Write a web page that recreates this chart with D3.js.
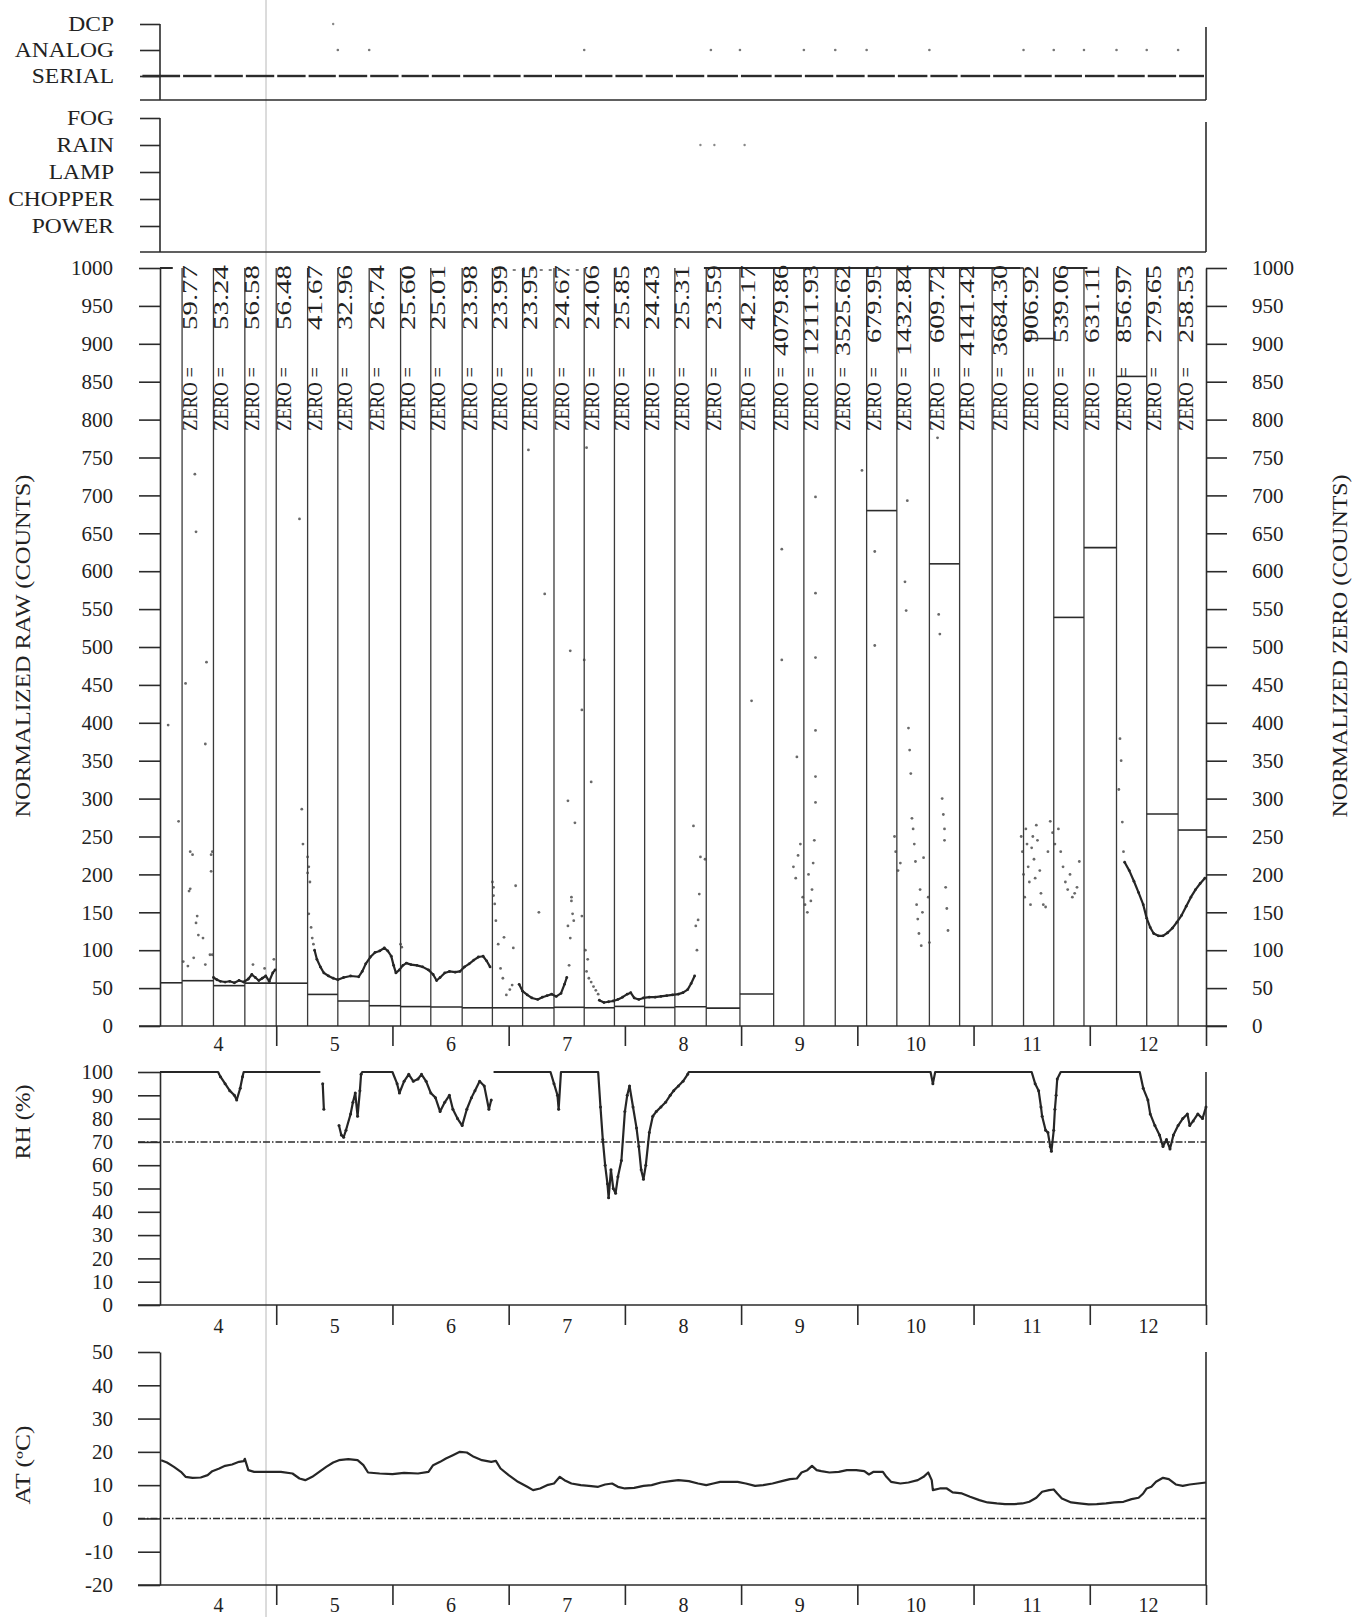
<!DOCTYPE html>
<html>
<head>
<meta charset="utf-8">
<script src="https://d3js.org/d3.v7.min.js"></script>
<style>
  body { margin: 0; background: #fff; }
  svg { display: block; }
  text { font-family: "Liberation Serif", "Times New Roman", serif; fill: #222; }
</style>
</head>
<body>
<div id="chart"></div>
<script>
// ---- data ----
const days = [4, 5, 6, 7, 8, 9, 10, 11, 12];
const dayBounds = [5, 6, 7, 8, 9, 10, 11, 12, 13];
const statusRows = ["DCP", "ANALOG", "SERIAL"];
const sensorRows = ["FOG", "RAIN", "LAMP", "CHOPPER", "POWER"];
const rawTicks = [0, 50, 100, 150, 200, 250, 300, 350, 400, 450, 500, 550, 600, 650, 700, 750, 800, 850, 900, 950, 1000];
const rhTicks = [0, 10, 20, 30, 40, 50, 60, 70, 80, 90, 100];
const atTicks = [-20, -10, 0, 10, 20, 30, 40, 50];

// zero calibration times (day) and the labels printed at them
const zeroTimes = [4.19, 4.46, 4.73, 5.00, 5.27, 5.53, 5.80, 6.07, 6.33, 6.60, 6.86, 7.12, 7.39, 7.65, 7.91, 8.17, 8.43,
  8.70, 8.99, 9.28, 9.54, 9.81, 10.08, 10.34, 10.62, 10.88, 11.16, 11.43, 11.69, 11.95, 12.23, 12.49, 12.76];
const zeroLabels = ["59.77", "53.24", "56.58", "56.48", "41.67", "32.96", "26.74", "25.60", "25.01", "23.98", "23.99",
  "23.95", "24.67", "24.06", "25.85", "24.43", "25.31", "23.59", "42.17", "4079.86", "1211.93", "3525.62", "679.95",
  "1432.84", "609.72", "4141.42", "3684.30", "906.92", "539.06", "631.11", "856.97", "279.65", "258.53"];
const priorZero = 57;

// flags in the two status panels
const dcpTimes = [5.49];
const analogTimes = [5.53, 5.80, 7.65, 8.74, 8.99, 9.54, 9.81, 10.08, 10.62, 11.43, 11.69, 11.95, 12.23, 12.49, 12.76];
const rainTimes = [8.65, 8.77, 9.03];
const serialStart = 3.84;

// normalized raw: dense trace (null = gap), isolated dots, saturated spans at 1000
const rawTrace = [
  [4.46, 64], [4.49, 61], [4.52, 59], [4.56, 58], [4.60, 59], [4.64, 57], [4.68, 60], [4.72, 58], [4.76, 62], [4.79, 68],
  [4.82, 64], [4.85, 60], [4.88, 63], [4.91, 66], [4.94, 59], [4.97, 70], [4.99, 74], null,
  [5.33, 100], [5.35, 88], [5.38, 78], [5.41, 70], [5.45, 66], [5.49, 63], [5.53, 61], [5.58, 64], [5.64, 66], [5.71, 65],
  [5.74, 72], [5.77, 82], [5.81, 91], [5.85, 97], [5.89, 99], [5.93, 103], [5.96, 99], [5.99, 92], [6.01, 80], [6.03, 70],
  [6.06, 74], [6.09, 80], [6.12, 83], [6.16, 81], [6.21, 80], [6.26, 78], [6.31, 74], [6.35, 68], [6.38, 60], [6.41, 64],
  [6.45, 70], [6.49, 72], [6.54, 71], [6.58, 72], [6.62, 78], [6.66, 82], [6.70, 87], [6.74, 91], [6.78, 92], [6.81, 86],
  [6.84, 78], null,
  [7.09, 55], [7.12, 46], [7.16, 41], [7.20, 37], [7.25, 35], [7.29, 38], [7.33, 40], [7.37, 42], [7.41, 39], [7.45, 43],
  [7.48, 55], [7.50, 64], null,
  [7.78, 34], [7.82, 31], [7.86, 32], [7.90, 33], [7.94, 35], [7.98, 38], [8.02, 42], [8.05, 44], [8.08, 37], [8.12, 35],
  [8.16, 37], [8.21, 38], [8.26, 38], [8.31, 39], [8.36, 40], [8.41, 41], [8.46, 42], [8.50, 44], [8.54, 48], [8.57, 56],
  [8.60, 66], null,
  [12.30, 216], [12.34, 205], [12.38, 191], [12.42, 176], [12.46, 160], [12.49, 142], [12.52, 130], [12.55, 122],
  [12.59, 119], [12.63, 119], [12.67, 123], [12.71, 129], [12.75, 137], [12.79, 146], [12.83, 158], [12.87, 170],
  [12.91, 180], [12.95, 188], [12.99, 195]
];
const rawDots = [
  [4.07, 397], [4.16, 270], [4.20, 85], [4.22, 452], [4.24, 79], [4.25, 178], [4.26, 230], [4.26, 181], [4.28, 226],
  [4.29, 90], [4.30, 728], [4.31, 652], [4.31, 136], [4.32, 145], [4.33, 120], [4.37, 116], [4.39, 372], [4.39, 81],
  [4.40, 480], [4.43, 94], [4.44, 226], [4.44, 204], [4.45, 94], [4.45, 230], [4.80, 81], [4.90, 76], [4.98, 88],
  [5.20, 669], [5.22, 286], [5.23, 240], [5.27, 223], [5.27, 202], [5.28, 210], [5.29, 190], [5.28, 148], [5.30, 130],
  [5.31, 116], [5.32, 108], [6.07, 108], [6.08, 104],
  [6.86, 190], [6.87, 172], [6.87, 183], [6.88, 161], [6.89, 139], [6.91, 108], [6.93, 76], [6.95, 63], [6.96, 117],
  [6.98, 41], [7.01, 48], [7.03, 54], [7.04, 103], [7.06, 185], [7.17, 760], [7.26, 150], [7.31, 570],
  [7.51, 297], [7.51, 132], [7.52, 80], [7.53, 116], [7.54, 165], [7.54, 170], [7.55, 148], [7.56, 139], [7.57, 268],
  [7.53, 495], [7.63, 417], [7.63, 145], [7.65, 483], [7.67, 763], [7.71, 322],
  [7.66, 100], [7.67, 72], [7.68, 88], [7.69, 63], [7.71, 58], [7.73, 52], [7.75, 47], [7.77, 42],
  [8.59, 264], [8.61, 132], [8.62, 100], [8.63, 140], [8.64, 174], [8.65, 223], [8.69, 220],
  [9.09, 429], [9.35, 629], [9.35, 483], [9.48, 355], [9.64, 698], [9.64, 571], [9.64, 486], [9.64, 390], [9.64, 329],
  [9.64, 295], [9.45, 210], [9.47, 195], [9.49, 225], [9.51, 240], [9.53, 170], [9.55, 160], [9.57, 150], [9.58, 200],
  [9.60, 165], [9.61, 180], [9.62, 215], [9.63, 245],
  [10.04, 733], [10.15, 626], [10.15, 502], [10.32, 250], [10.33, 230], [10.35, 205], [10.37, 215], [10.41, 586],
  [10.42, 548], [10.43, 693], [10.44, 393], [10.45, 364], [10.46, 333], [10.47, 274], [10.48, 260], [10.49, 240],
  [10.50, 217], [10.51, 160], [10.52, 141], [10.53, 122], [10.55, 106], [10.54, 180], [10.56, 150], [10.57, 222],
  [10.61, 170], [10.62, 110], [10.69, 776], [10.70, 543], [10.71, 517], [10.73, 300], [10.74, 279], [10.75, 260],
  [10.75, 245], [10.76, 183], [10.77, 155], [10.78, 126],
  [11.41, 250], [11.42, 230], [11.43, 200], [11.44, 170], [11.45, 260], [11.46, 240], [11.47, 210], [11.48, 190],
  [11.49, 160], [11.50, 235], [11.51, 250], [11.52, 220], [11.53, 195], [11.54, 265], [11.55, 245], [11.57, 205],
  [11.58, 175], [11.60, 160], [11.62, 157], [11.64, 230], [11.66, 270], [11.68, 255], [11.70, 240], [11.73, 260],
  [11.75, 230], [11.77, 210], [11.79, 190], [11.81, 180], [11.83, 200], [11.85, 170], [11.87, 175], [11.89, 183],
  [11.91, 217], [12.25, 312], [12.26, 379], [12.27, 350], [12.28, 269], [12.29, 230]
];
const rawSaturated = [[4.00, 4.11], [8.68, 11.40], [11.78, 11.98]];
const rawSaturatedSparse = [[6.88, 7.66]];

// relative humidity (%), null = gap
const rhSeries = [
  [4.00, 100], [4.50, 100], [4.52, 98], [4.56, 95], [4.60, 92], [4.64, 90], [4.66, 88], [4.69, 93], [4.71, 98], [4.72, 100],
  [5.38, 100], null, [5.40, 95], [5.41, 84], null,
  [5.54, 77], [5.56, 73], [5.58, 72], [5.60, 75], [5.64, 82], [5.66, 87], [5.68, 91], [5.70, 81], [5.72, 92], [5.73, 99],
  [5.74, 100], [6.00, 100], [6.04, 95], [6.06, 91], [6.10, 96], [6.14, 99], [6.18, 96], [6.22, 97], [6.25, 99], [6.29, 96],
  [6.33, 91], [6.37, 89], [6.41, 83], [6.45, 87], [6.49, 90], [6.52, 84], [6.56, 80], [6.60, 77], [6.64, 84], [6.68, 89],
  [6.71, 92], [6.75, 96], [6.79, 94], [6.83, 84], [6.85, 88], null,
  [6.87, 100], [7.36, 100], [7.39, 95], [7.42, 90], [7.43, 84], [7.45, 100], [7.77, 100], [7.79, 85], [7.81, 71],
  [7.83, 60], [7.85, 52], [7.86, 46], [7.88, 58], [7.90, 50], [7.92, 48], [7.94, 55], [7.97, 62], [8.00, 83], [8.02, 90],
  [8.04, 94], [8.07, 85], [8.10, 76], [8.12, 68], [8.14, 58], [8.16, 54], [8.18, 60], [8.21, 74], [8.24, 81], [8.27, 83],
  [8.31, 85], [8.35, 87], [8.39, 90], [8.42, 92], [8.46, 94], [8.50, 96], [8.54, 99], [8.55, 100], [10.63, 100],
  [10.65, 95], [10.67, 100], [11.50, 100], [11.53, 95], [11.56, 92], [11.58, 85], [11.59, 81], [11.62, 75], [11.64, 74],
  [11.66, 68], [11.67, 66], [11.69, 75], [11.70, 84], [11.71, 90], [11.72, 97], [11.75, 100], [12.43, 100], [12.46, 93],
  [12.50, 88], [12.52, 82], [12.56, 77], [12.60, 73], [12.63, 68], [12.66, 71], [12.69, 67], [12.72, 73], [12.76, 77],
  [12.80, 80], [12.84, 82], [12.86, 77], [12.89, 79], [12.93, 82], [12.97, 80], [13.00, 85]
];
const rhLimit = 70;

// air temperature (deg C)
const atSeries = [
  [4.01, 17.5], [4.06, 16.8], [4.12, 15.5], [4.18, 14], [4.22, 12.5], [4.28, 12.2], [4.35, 12.3], [4.41, 13], [4.45, 14.2],
  [4.51, 15], [4.56, 15.8], [4.62, 16.2], [4.68, 17], [4.72, 17.2], [4.73, 17.9], [4.76, 14.5], [4.81, 14], [4.93, 14],
  [5.04, 14], [5.14, 13.5], [5.20, 12], [5.25, 11.5], [5.31, 12.5], [5.37, 14], [5.43, 15.5], [5.49, 16.8], [5.54, 17.5],
  [5.62, 17.8], [5.70, 17.5], [5.75, 16], [5.79, 13.8], [5.89, 13.5], [6.00, 13.3], [6.10, 13.7], [6.22, 13.5], [6.31, 14],
  [6.35, 16], [6.41, 17], [6.46, 18], [6.52, 19], [6.58, 20], [6.64, 19.8], [6.70, 18.5], [6.77, 17.5], [6.85, 17],
  [6.89, 17.3], [6.93, 15], [7.00, 13], [7.08, 11], [7.16, 9.5], [7.21, 8.5], [7.27, 9], [7.33, 10], [7.39, 10.5],
  [7.44, 12.5], [7.48, 11.5], [7.54, 10.5], [7.62, 10], [7.69, 9.8], [7.77, 9.5], [7.83, 10.2], [7.89, 10.5], [7.94, 9.5],
  [8.00, 9], [8.08, 9.2], [8.16, 9.8], [8.23, 10], [8.31, 10.8], [8.39, 11.2], [8.46, 11.5], [8.55, 11.2], [8.63, 10.5],
  [8.70, 10], [8.76, 10.5], [8.82, 11], [8.89, 11], [8.97, 11], [9.04, 10.5], [9.12, 9.8], [9.19, 10], [9.27, 10.5],
  [9.35, 11.2], [9.42, 11.8], [9.48, 12], [9.52, 13.8], [9.57, 14.5], [9.61, 15.8], [9.65, 14.5], [9.69, 14.2],
  [9.76, 13.8], [9.84, 14], [9.91, 14.5], [9.99, 14.5], [10.06, 14.2], [10.10, 13.2], [10.14, 14], [10.22, 14],
  [10.25, 12.5], [10.29, 11], [10.37, 10.5], [10.44, 10.8], [10.52, 11.5], [10.57, 12.5], [10.61, 13.8], [10.64, 11.5],
  [10.65, 8.5], [10.71, 9], [10.77, 9], [10.82, 7.8], [10.90, 7.5], [10.97, 6.5], [11.05, 5.5], [11.12, 4.8], [11.20, 4.5],
  [11.27, 4.3], [11.35, 4.3], [11.42, 4.5], [11.48, 5], [11.54, 6.2], [11.59, 8], [11.65, 8.5], [11.69, 8.7], [11.72, 7.5],
  [11.76, 6], [11.84, 4.8], [11.91, 4.5], [11.99, 4.2], [12.06, 4.3], [12.14, 4.5], [12.21, 4.8], [12.29, 5], [12.36, 5.8],
  [12.42, 6.2], [12.46, 7.5], [12.49, 9], [12.53, 9.5], [12.57, 11], [12.63, 12.2], [12.68, 11.8], [12.74, 10.2],
  [12.80, 9.8], [12.86, 10.2], [12.93, 10.5], [13.00, 10.8]
];
const atLimit = 0;

//--- layout ---//
const W = 1366, H = 1617;
const left = 160, right = 1206;
const ink = "#2b2b2b";
const tickLen = 21;
const plain = d => String(d); // no thousands comma, ascii minus

const svg = d3.select("#chart").append("svg").attr("width", W).attr("height", H);

const x = d3.scaleLinear().domain([4, 13]).range([left, right]);
const yStatus = d3.scalePoint().domain(statusRows).range([24, 76]);
const ySensor = d3.scalePoint().domain(sensorRows).range([118, 226]);
const yRaw = d3.scaleLinear().domain([0, 1000]).range([1026, 268]);
const yRH = d3.scaleLinear().domain([0, 100]).range([1305, 1072]);
const yAT = d3.scaleLinear().domain([-20, 50]).range([1585, 1352]);

// faint scan line
svg.append("line")
  .attr("x1", 266).attr("x2", 266).attr("y1", 0).attr("y2", H)
  .attr("stroke", "#b8b8b8").attr("stroke-width", 1);

function styleAxis(g, size) {
  g.attr("color", ink).attr("font-size", size);
  g.selectAll("line").attr("stroke-width", 1.6);
  g.selectAll(".domain").attr("stroke-width", 1.6);
  g.selectAll("text").style("fill", "#222");
}

function hline(g, x1, x2, y, w, dash) {
  g.append("line").attr("x1", x1).attr("x2", x2).attr("y1", y).attr("y2", y)
    .attr("stroke", ink).attr("stroke-width", w || 1.6)
    .attr("stroke-dasharray", dash || null);
}
function vline(g, xx, y1, y2, w) {
  g.append("line").attr("x1", xx).attr("x2", xx).attr("y1", y1).attr("y2", y2)
    .attr("stroke", ink).attr("stroke-width", w || 1.6);
}

// bottom axis: day-boundary ticks + centred day numbers
function dayAxis(g, yBase, pad) {
  g.append("g").attr("transform", `translate(0,${yBase})`)
    .call(d3.axisBottom(x).tickValues(dayBounds).tickSize(20).tickFormat(""))
    .call(a => a.select(".domain").remove())
    .call(a => styleAxis(a, 20));
  g.append("g").attr("transform", `translate(0,${yBase})`)
    .call(d3.axisBottom(x).tickValues(days.map(d => d + 0.5)).tickSize(0).tickPadding(pad)
      .tickFormat(d => Math.floor(d)))
    .call(a => a.select(".domain").remove())
    .call(a => styleAxis(a, 20));
}

function stretchLabels(sel, k) {
  sel.each(function () {
    const w = this.getComputedTextLength();
    d3.select(this).attr("textLength", w * k).attr("lengthAdjust", "spacingAndGlyphs");
  });
}

//--- status panels ---//
const gTop = svg.append("g");
gTop.append("g").attr("transform", `translate(${left},0)`)
  .call(d3.axisLeft(yStatus).tickSize(20).tickPadding(26).tickSizeOuter(0))
  .call(a => a.select(".domain").remove())
  .call(a => styleAxis(a, 21))
  .call(a => stretchLabels(a.selectAll("text"), 1.12));
vline(gTop, left, yStatus("DCP"), 100);
hline(gTop, left - 20, right, 100);
vline(gTop, right, 27, 100);

// serial link: dashes broken at each zero cycle
const serialBreaks = [serialStart].concat(zeroTimes, [13]);
gTop.selectAll(".serial").data(d3.pairs(serialBreaks)).join("line")
  .attr("x1", d => x(d[0]) + 1).attr("x2", d => x(d[1]) - 2)
  .attr("y1", yStatus("SERIAL")).attr("y2", yStatus("SERIAL"))
  .attr("stroke", ink).attr("stroke-width", 2.4);
gTop.selectAll(".analog").data(analogTimes).join("circle")
  .attr("cx", d => x(d)).attr("cy", yStatus("ANALOG")).attr("r", 1.3).attr("fill", "#777");
gTop.selectAll(".dcp").data(dcpTimes).join("circle")
  .attr("cx", d => x(d)).attr("cy", yStatus("DCP")).attr("r", 1.2).attr("fill", "#888");

const gSens = svg.append("g");
gSens.append("g").attr("transform", `translate(${left},0)`)
  .call(d3.axisLeft(ySensor).tickSize(20).tickPadding(26).tickSizeOuter(0))
  .call(a => a.select(".domain").remove())
  .call(a => styleAxis(a, 21))
  .call(a => stretchLabels(a.selectAll("text"), 1.12));
vline(gSens, left, ySensor("FOG"), 252);
hline(gSens, left - 20, right, 252);
vline(gSens, right, 122, 252);
gSens.selectAll(".rain").data(rainTimes).join("circle")
  .attr("cx", d => x(d)).attr("cy", ySensor("RAIN")).attr("r", 1.2).attr("fill", "#888");

//--- normalized raw / zero panel ---//
const gMain = svg.append("g");

// zero calibration columns
gMain.selectAll(".zcol").data(zeroTimes).join("line")
  .attr("x1", d => x(d)).attr("x2", d => x(d))
  .attr("y1", yRaw(0)).attr("y2", yRaw(1000))
  .attr("stroke", "#3a3a3a").attr("stroke-width", 1.3);

const zeroSegs = [[4, zeroTimes[0], priorZero]].concat(
  zeroTimes.map((t, i) => [t, i + 1 < zeroTimes.length ? zeroTimes[i + 1] : 13, +zeroLabels[i]]));
gMain.selectAll(".zseg").data(zeroSegs).join("line")
  .attr("x1", d => x(d[0])).attr("x2", d => x(d[1]))
  .attr("y1", d => yRaw(Math.min(d[2], 1000))).attr("y2", d => yRaw(Math.min(d[2], 1000)))
  .attr("stroke", ink).attr("stroke-width", 1.6);

// raw saturation at the top of the scale
gMain.selectAll(".sat").data(rawSaturated).join("line")
  .attr("x1", d => x(d[0])).attr("x2", d => x(d[1]))
  .attr("y1", yRaw(1000)).attr("y2", yRaw(1000))
  .attr("stroke", ink).attr("stroke-width", 2);
gMain.selectAll(".sat2").data(rawSaturatedSparse).join("line")
  .attr("x1", d => x(d[0])).attr("x2", d => x(d[1]))
  .attr("y1", yRaw(1000) + 2).attr("y2", yRaw(1000) + 2)
  .attr("stroke", "#555").attr("stroke-width", 1.6).attr("stroke-dasharray", "3,6");

// raw trace + dots
gMain.append("path")
  .attr("d", d3.line().defined(d => d !== null).x(d => x(d[0])).y(d => yRaw(d[1]))(rawTrace))
  .attr("fill", "none").attr("stroke", "#262626").attr("stroke-width", 2.2).attr("stroke-linejoin", "round");
gMain.selectAll(".rdot").data(rawTrace.filter(d => d !== null)).join("circle")
  .attr("cx", d => x(d[0])).attr("cy", d => yRaw(d[1])).attr("r", 1.4).attr("fill", "#262626");
gMain.selectAll(".sdot").data(rawDots).join("circle")
  .attr("cx", d => x(d[0])).attr("cy", d => yRaw(d[1])).attr("r", 1.4)
  .attr("fill", "#444").attr("opacity", 0.8);

// ZERO labels, rotated, sitting against each column line
const zl = gMain.selectAll(".zlab").data(zeroTimes).join("g")
  .attr("transform", d => `translate(${x(d) + 8},0) rotate(-90)`);
zl.append("text")
  .attr("x", -431).attr("dy", "0.33em").attr("font-size", 20)
  .attr("textLength", 64).attr("lengthAdjust", "spacingAndGlyphs")
  .text("ZERO =");
zl.append("text")
  .attr("x", -265).attr("dy", "0.33em").attr("font-size", 20).attr("text-anchor", "end")
  .attr("textLength", (d, i) => zeroLabels[i].length * 13).attr("lengthAdjust", "spacingAndGlyphs")
  .text((d, i) => zeroLabels[i]);

// axes
gMain.append("g").attr("transform", `translate(${left},0)`)
  .call(d3.axisLeft(yRaw).tickValues(rawTicks).tickFormat(plain).tickSize(tickLen).tickPadding(26).tickSizeOuter(0))
  .call(a => styleAxis(a, 21));
gMain.append("g").attr("transform", `translate(${right},0)`)
  .call(d3.axisRight(yRaw).tickValues(rawTicks).tickFormat(plain).tickSize(tickLen).tickPadding(25).tickSizeOuter(0))
  .call(a => styleAxis(a, 21));
hline(gMain, left - tickLen, right + tickLen, yRaw(0));
dayAxis(gMain, yRaw(0), 11);

//--- RH panel ---//
const gRH = svg.append("g");
hline(gRH, left - 22, right, yRH(rhLimit), 1.5, "7,2,1.5,2");
gRH.append("g").attr("transform", `translate(${left},0)`)
  .call(d3.axisLeft(yRH).tickValues(rhTicks).tickFormat(plain).tickSize(22).tickPadding(25).tickSizeOuter(0))
  .call(a => styleAxis(a, 21));
vline(gRH, right, yRH(100), yRH(0));
hline(gRH, left - 22, right, yRH(0));
gRH.append("path")
  .attr("d", d3.line().defined(d => d !== null).x(d => x(d[0])).y(d => yRH(d[1]))(rhSeries))
  .attr("fill", "none").attr("stroke", "#262626").attr("stroke-width", 2.2).attr("stroke-linejoin", "round");
gRH.selectAll(".rhdot").data(rhSeries.filter(d => d !== null && d[1] < 100)).join("circle")
  .attr("cx", d => x(d[0])).attr("cy", d => yRH(d[1])).attr("r", 1.5).attr("fill", "#262626");
dayAxis(gRH, yRH(0), 14);

//--- AT panel ---//
const gAT = svg.append("g");
hline(gAT, left - 22, right, yAT(atLimit), 1.5, "7,2,1.5,2");
gAT.append("g").attr("transform", `translate(${left},0)`)
  .call(d3.axisLeft(yAT).tickValues(atTicks).tickFormat(plain).tickSize(22).tickPadding(25).tickSizeOuter(0))
  .call(a => styleAxis(a, 21));
vline(gAT, right, yAT(50), yAT(-20));
hline(gAT, left - 22, right, yAT(-20));
gAT.append("path")
  .attr("d", d3.line().x(d => x(d[0])).y(d => yAT(d[1]))(atSeries))
  .attr("fill", "none").attr("stroke", "#262626").attr("stroke-width", 2.2).attr("stroke-linejoin", "round");
dayAxis(gAT, yAT(-20), 13);

//--- axis titles ---//
function vtitle(cx, cy, txt, len) {
  svg.append("text")
    .attr("transform", `translate(${cx},${cy}) rotate(-90)`)
    .attr("text-anchor", "middle").attr("dy", "0.33em").attr("font-size", 20)
    .attr("textLength", len).attr("lengthAdjust", "spacingAndGlyphs")
    .text(txt);
}
vtitle(23, 646, "NORMALIZED RAW (COUNTS)", 343);
vtitle(1340, 646, "NORMALIZED ZERO (COUNTS)", 343);
vtitle(23, 1122, "RH (%)", 75);
vtitle(23, 1465, "AT (ºC)", 79);
</script>
</body>
</html>
